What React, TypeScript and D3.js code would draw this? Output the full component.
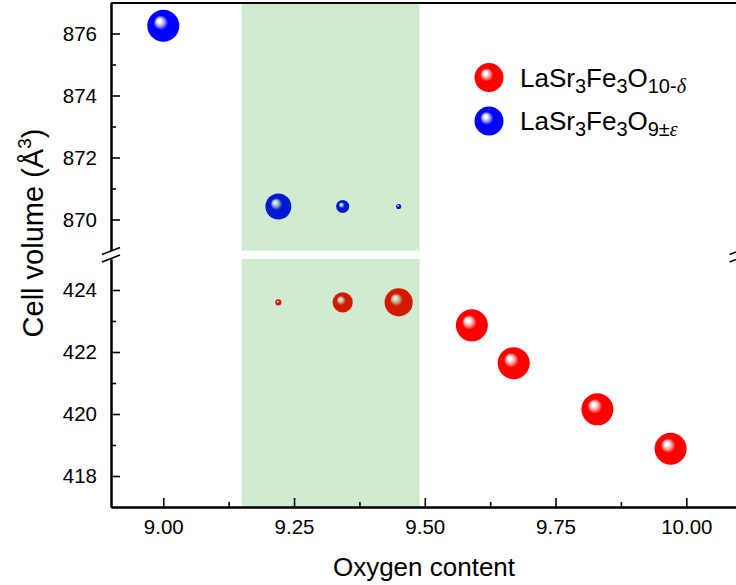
import React, { useEffect, useRef } from 'react';
import * as d3 from 'd3';

// LaSr3Fe3O9±ε, upper (broken) panel
const blueOxygen = [9.0, 9.22, 9.343, 9.45];
const blueVolume = [876.25, 870.42, 870.42, 870.42];
const blueFraction = [1.0, 0.81, 0.41, 0.16];

// LaSr3Fe3O10-δ, lower panel
const redOxygen = [9.22, 9.343, 9.45, 9.59, 9.67, 9.83, 9.97];
const redVolume = [423.6, 423.6, 423.6, 422.86, 421.64, 420.15, 418.88];
const redFraction = [0.19, 0.63, 0.88, 1, 1, 1, 1];

const xTicks = [9.0, 9.25, 9.5, 9.75, 10.0];
const upperTicks = [870, 872, 874, 876];
const lowerTicks = [418, 420, 422, 424];
const twoPhaseRange = [9.15, 9.49];

const FONT = 'Arial, "Liberation Sans", sans-serif';

function App() {
  const ref = useRef<SVGSVGElement>(null);

  useEffect(() => {
    const svg = d3.select(ref.current);
    svg.selectAll('*').remove();

    const x = d3.scaleLinear().domain([8.9, 10.1]).range([111, 738.6]);
    const yUp = d3.scaleLinear().domain([869, 877]).range([250.5, 2.5]);
    const yLo = d3.scaleLinear().domain([417, 425]).range([507, 259]);
    const r = d3.scaleLinear().domain([0, 1]).range([0, 16]);

    // sphere look
    const defs = svg.append('defs');
    const sphere = (id: string, light: string, base: string) => {
      const g = defs.append('radialGradient').attr('id', id)
        .attr('cx', 0.5).attr('cy', 0.5).attr('r', 0.5)
        .attr('fx', 0.36).attr('fy', 0.33);
      g.append('stop').attr('offset', '0%').attr('stop-color', '#fff');
      g.append('stop').attr('offset', '12%').attr('stop-color', '#fff');
      g.append('stop').attr('offset', '28%').attr('stop-color', light);
      g.append('stop').attr('offset', '46%').attr('stop-color', base);
      g.append('stop').attr('offset', '100%').attr('stop-color', base);
    };
    sphere('ball-red', '#ff9a9a', '#ff0000');
    sphere('ball-blue', '#9a9aff', '#0000ff');

    // points
    svg.append('g').selectAll('circle')
      .data(blueOxygen.map((o, i) => ({ o, v: blueVolume[i], f: blueFraction[i] })))
      .enter().append('circle')
      .attr('cx', d => x(d.o)).attr('cy', d => yUp(d.v)).attr('r', d => r(d.f))
      .attr('fill', 'url(#ball-blue)');
    svg.append('g').selectAll('circle')
      .data(redOxygen.map((o, i) => ({ o, v: redVolume[i], f: redFraction[i] })))
      .enter().append('circle')
      .attr('cx', d => x(d.o)).attr('cy', d => yLo(d.v)).attr('r', d => r(d.f))
      .attr('fill', 'url(#ball-red)');

    // two-phase region, drawn over the balls (semi transparent)
    const bx0 = x(twoPhaseRange[0]), bx1 = x(twoPhaseRange[1]);
    svg.append('rect').attr('x', bx0).attr('width', bx1 - bx0)
      .attr('y', yUp(877) + 1).attr('height', yUp(869) - yUp(877) - 1)
      .attr('fill', 'rgb(0,144,0)').attr('opacity', 0.18);
    svg.append('rect').attr('x', bx0).attr('width', bx1 - bx0)
      .attr('y', yLo(425)).attr('height', yLo(417) - yLo(425))
      .attr('fill', 'rgb(0,144,0)').attr('opacity', 0.18);

    const style = (g: any) => {
      g.attr('font-family', FONT).attr('font-size', 20.5);
      g.select('.domain').attr('stroke-width', 2);
      g.selectAll('.tick line').attr('stroke-width', 1.6);
      g.selectAll('.tick text').attr('fill', '#000');
    };

    const minor = (lo: number, hi: number, step: number) =>
      d3.range(lo, hi + 1e-9, step);

    // left axes
    svg.append('g').attr('transform', 'translate(111,0)')
      .call(d3.axisLeft(yUp).tickValues(upperTicks).tickSize(-9).tickSizeOuter(0).tickPadding(14).tickFormat(d3.format('d')))
      .call(style);
    svg.append('g').attr('transform', 'translate(111,0)')
      .call(d3.axisLeft(yUp).tickValues(minor(871, 875, 2)).tickSize(-5).tickSizeOuter(0).tickFormat(() => ''))
      .call(style);
    svg.append('g').attr('transform', 'translate(111,0)')
      .call(d3.axisLeft(yLo).tickValues(lowerTicks).tickSize(-9).tickSizeOuter(0).tickPadding(14).tickFormat(d3.format('d')))
      .call(style);
    svg.append('g').attr('transform', 'translate(111,0)')
      .call(d3.axisLeft(yLo).tickValues(minor(419, 423, 2)).tickSize(-5).tickSizeOuter(0).tickFormat(() => ''))
      .call(style);

    // right axes (mostly off canvas)
    svg.append('g').attr('transform', 'translate(738.6,0)')
      .call(d3.axisRight(yUp).tickValues([]).tickSizeOuter(0)).call(style);
    svg.append('g').attr('transform', 'translate(738.6,0)')
      .call(d3.axisRight(yLo).tickValues([]).tickSizeOuter(0)).call(style);

    // bottom axis
    svg.append('g').attr('transform', 'translate(0,507)')
      .call(d3.axisBottom(x).tickValues(xTicks).tickSize(-9).tickSizeOuter(0).tickPadding(12).tickFormat(d3.format('.2f')))
      .call(style);
    svg.append('g').attr('transform', 'translate(0,507)')
      .call(d3.axisBottom(x).tickValues(minor(9.125, 10, 0.25)).tickSize(-5).tickSizeOuter(0).tickFormat(() => ''))
      .call(style);

    // top border
    svg.append('line').attr('x1', 111).attr('x2', 738.6).attr('y1', 3).attr('y2', 3)
      .attr('stroke', '#000').attr('stroke-width', 2);

    // axis break marks
    [111, 738.6].forEach(cx => {
      [251, 258.5].forEach(cy => {
        svg.append('line')
          .attr('x1', cx - 9).attr('y1', cy + 3.5).attr('x2', cx + 9).attr('y2', cy - 3.5)
          .attr('stroke', '#000').attr('stroke-width', 1.6);
      });
    });

    // axis titles
    svg.append('text')
      .attr('x', 424).attr('y', 576).attr('text-anchor', 'middle')
      .attr('font-family', FONT).attr('font-size', 26)
      .text('Oxygen content');

    const yt = svg.append('text')
      .attr('transform', 'translate(43,233) rotate(-90)').attr('text-anchor', 'middle')
      .attr('font-family', FONT).attr('font-size', 29);
    yt.append('tspan').text('Cell volume (Å');
    yt.append('tspan').attr('font-size', 19).attr('dy', -12).text('3');
    yt.append('tspan').attr('dy', 12).text(')');

    // legend
    const legend = [
      { id: 'ball-red', parts: [['LaSr', 0], ['3', 1], ['Fe', 0], ['3', 1], ['O', 0], ['10-', 1], ['δ', 2]] },
      { id: 'ball-blue', parts: [['LaSr', 0], ['3', 1], ['Fe', 0], ['3', 1], ['O', 0], ['9±', 1], ['ε', 2]] },
    ];
    legend.forEach((item, i) => {
      const cy = 77.5 + i * 43.5;
      svg.append('circle').attr('cx', 489).attr('cy', cy).attr('r', 14.5)
        .attr('fill', `url(#${item.id})`);
      const t = svg.append('text').attr('x', 520).attr('y', cy + 9)
        .attr('font-family', FONT).attr('font-size', 26);
      let shifted = false;
      item.parts.forEach(([s, kind]) => {
        const sp = t.append('tspan').text(s as string);
        const sub = kind !== 0;
        if (sub && !shifted) sp.attr('dy', 6);
        if (!sub && shifted) sp.attr('dy', -6);
        shifted = sub;
        if (sub) sp.attr('font-size', 20);
        if (kind === 2) sp.attr('font-style', 'italic').attr('font-family', '"Liberation Serif", "DejaVu Serif", serif');
      });
    });
  }, []);

  return (
    <svg ref={ref} width={736} height={585}
      style={{ position: 'absolute', left: 0, top: 0, background: '#fff' }} />
  );
}

export default App;
